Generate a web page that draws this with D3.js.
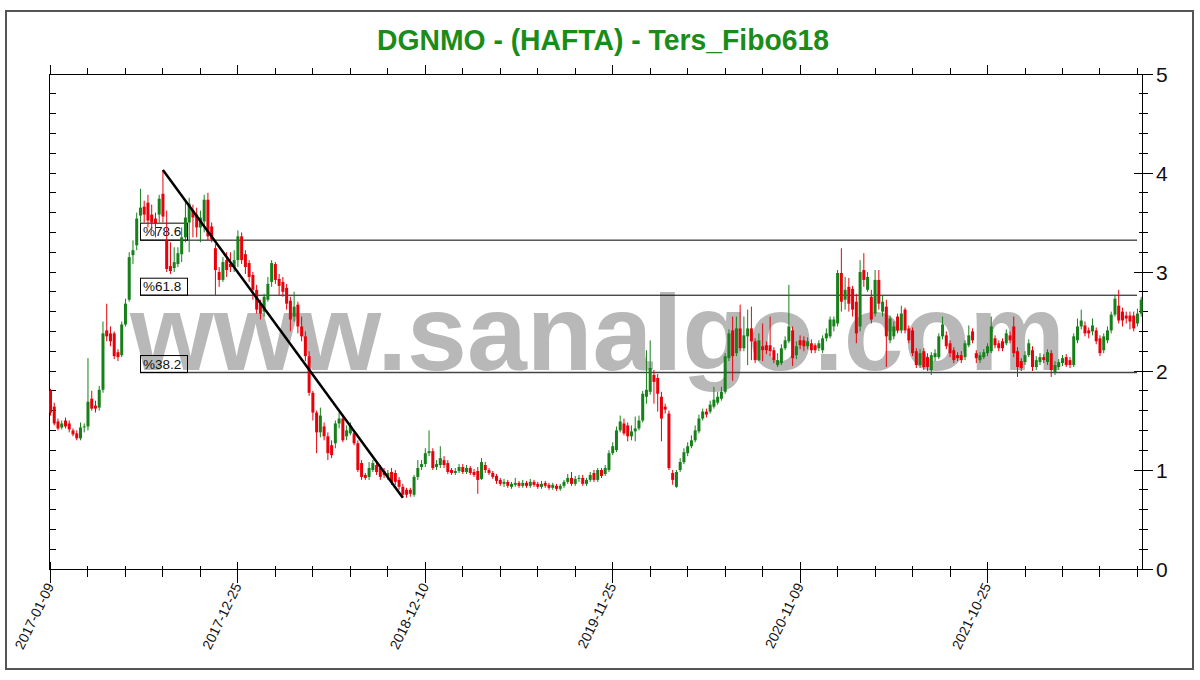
<!DOCTYPE html>
<html><head><meta charset="utf-8">
<script src="https://cdn.jsdelivr.net/npm/d3@7"></script>
<style>body{margin:0;background:#fff}svg{display:block;font-family:"Liberation Sans",Arial,sans-serif}</style>
</head><body><svg id="c" width="1200" height="680"></svg>
<script>
const titleText = "DGNMO - (HAFTA) - Ters_Fibo618";
const watermark = "www.sanalgo.com";
const startDate = "2017-01-09";
const dateTickLabels = ["2017-01-09","2017-12-25","2018-12-10","2019-11-25","2020-11-09","2021-10-25"];
const yTickLabels = [0,1,2,3,4,5];

const open = [
1.80,1.64,1.49,1.43,1.50,1.47,1.40,1.37,1.32,1.43,
1.44,1.72,1.65,1.63,1.81,2.41,2.38,2.38,2.19,2.16,
2.47,2.72,3.17,3.27,3.57,3.66,3.70,3.58,3.54,3.58,
3.79,3.32,3.06,3.04,3.08,3.18,3.35,3.50,3.62,3.58,
3.45,3.51,3.73,3.46,3.24,3.00,2.92,3.12,3.08,3.05,
3.12,3.36,3.18,3.09,2.97,2.82,2.68,2.60,2.72,2.90,
3.08,2.93,2.90,2.84,2.71,2.55,2.67,2.45,2.35,2.15,
1.78,1.58,1.38,1.44,1.34,1.25,1.27,1.47,1.52,1.34,
1.37,1.37,1.27,1.07,0.95,0.93,1.00,1.05,1.02,0.99,
0.93,0.98,0.97,0.90,0.83,0.80,0.80,0.75,0.93,1.03,
1.06,1.17,1.19,1.03,1.05,1.10,1.07,1.00,0.97,0.99,
1.03,0.98,1.02,0.98,0.99,0.91,1.05,1.00,0.97,0.94,
0.90,0.86,0.88,0.83,0.85,0.87,0.84,0.87,0.84,0.88,
0.86,0.83,0.87,0.85,0.82,0.84,0.81,0.84,0.88,0.92,
0.86,0.91,0.92,0.86,0.90,0.97,0.90,1.00,0.96,1.00,
1.17,1.20,1.40,1.47,1.45,1.34,1.39,1.42,1.50,1.74,
1.79,1.96,1.93,1.74,1.64,1.57,0.97,0.83,1.00,1.08,
1.17,1.24,1.30,1.39,1.52,1.59,1.59,1.64,1.68,1.72,
1.79,2.13,2.41,2.18,2.43,2.23,2.35,2.43,2.30,2.11,
2.25,2.26,2.26,2.21,2.06,2.08,2.23,2.30,2.41,2.16,
2.31,2.31,2.25,2.28,2.26,2.23,2.21,2.33,2.35,2.45,
2.48,2.99,2.72,2.85,2.83,2.70,2.45,3.02,2.82,2.75,
2.58,2.92,2.60,2.65,2.31,2.35,2.55,2.41,2.62,2.43,
2.41,2.20,2.06,2.20,2.14,2.01,2.14,2.14,2.35,2.36,
2.28,2.21,2.16,2.16,2.14,2.26,2.40,2.18,2.11,2.14,
2.18,2.20,2.33,2.28,2.30,2.28,2.36,2.45,2.20,2.10,
2.09,2.16,2.21,2.04,2.09,2.14,2.09,2.18,1.99,2.04,
2.08,2.14,2.11,2.06,2.31,2.45,2.46,2.41,2.40,2.41,
2.33,2.21,2.31,2.41,2.57,2.66,2.60,2.56,2.56,2.56,
2.48,2.58];
const high = [
1.82,1.68,1.52,1.50,1.53,1.50,1.42,1.40,1.48,1.47,
2.13,1.80,1.70,1.85,2.50,2.68,2.45,2.40,2.22,2.50,
2.73,3.20,3.32,3.60,3.84,3.72,3.78,3.68,3.60,3.78,
4.03,3.62,3.30,3.25,3.25,3.45,3.72,3.75,3.68,3.65,
3.62,3.78,3.80,3.50,3.28,3.05,3.15,3.20,3.20,3.22,
3.42,3.40,3.22,3.12,3.00,2.87,2.72,2.78,2.95,3.12,
3.10,2.98,2.95,2.88,2.75,2.80,2.70,2.55,2.40,2.20,
1.80,1.60,1.63,1.48,1.38,1.30,1.50,1.58,1.56,1.45,
1.48,1.40,1.30,1.10,0.97,1.08,1.10,1.08,1.05,1.02,
1.00,1.02,1.00,0.93,0.86,0.82,0.82,0.95,1.10,1.10,
1.22,1.40,1.22,1.10,1.24,1.14,1.10,1.02,1.02,1.06,
1.06,1.05,1.04,1.01,1.03,1.12,1.08,1.02,0.99,0.96,
0.92,0.91,0.90,0.88,0.92,0.89,0.90,0.89,0.91,0.90,
0.88,0.89,0.89,0.87,0.87,0.86,0.86,0.90,0.96,0.98,
0.94,0.95,0.95,0.92,0.98,1.00,1.02,1.02,1.05,1.20,
1.28,1.44,1.55,1.52,1.48,1.45,1.54,1.55,1.80,2.21,
2.31,2.01,1.97,1.79,1.67,1.60,1.00,1.00,1.12,1.22,
1.28,1.35,1.45,1.56,1.62,1.62,1.70,1.84,1.79,1.84,
2.18,2.42,2.55,2.55,2.67,2.55,2.62,2.65,2.33,2.38,
2.48,2.30,2.55,2.24,2.18,2.27,2.35,2.87,2.45,2.30,
2.36,2.35,2.34,2.32,2.28,2.31,2.36,2.43,2.55,2.55,
3.02,3.24,2.95,2.94,2.86,2.78,3.12,3.19,3.00,2.82,
3.02,3.02,2.76,2.72,2.56,2.50,2.58,2.66,2.64,2.46,
2.44,2.23,2.22,2.23,2.18,2.19,2.22,2.38,2.55,2.40,
2.31,2.24,2.19,2.20,2.31,2.46,2.43,2.21,2.19,2.22,
2.28,2.55,2.36,2.31,2.33,2.42,2.40,2.55,2.24,2.13,
2.20,2.32,2.25,2.15,2.18,2.17,2.22,2.21,2.10,2.12,
2.16,2.17,2.14,2.38,2.53,2.62,2.50,2.44,2.53,2.44,
2.36,2.38,2.45,2.60,2.77,2.82,2.64,2.60,2.60,2.60,
2.63,2.75];
const low = [
1.55,1.45,1.40,1.41,1.42,1.38,1.34,1.30,1.30,1.38,
1.40,1.60,1.58,1.60,1.78,2.30,2.25,2.12,2.10,2.14,
2.45,2.70,3.08,3.22,3.50,3.50,3.45,3.42,3.35,3.50,
3.50,3.00,2.98,3.00,3.05,3.10,3.30,3.20,3.35,3.35,
3.30,3.40,3.32,3.30,2.76,2.85,2.90,2.95,3.00,3.00,
3.05,3.08,2.98,2.90,2.72,2.58,2.52,2.55,2.70,2.85,
2.88,2.76,2.75,2.62,2.40,2.50,2.38,2.30,2.10,1.75,
1.50,1.17,1.33,1.30,1.10,1.12,1.22,1.42,1.28,1.30,
1.35,1.25,0.98,0.90,0.90,0.90,0.98,0.95,0.90,0.92,
0.90,0.85,0.85,0.80,0.72,0.72,0.73,0.73,0.90,1.00,
1.03,1.14,1.00,1.00,1.02,1.02,0.96,0.95,0.95,0.97,
0.96,0.96,0.95,0.93,0.76,0.90,0.97,0.95,0.91,0.86,
0.84,0.83,0.82,0.81,0.83,0.82,0.82,0.82,0.82,0.83,
0.81,0.81,0.82,0.80,0.80,0.79,0.79,0.82,0.86,0.84,
0.84,0.88,0.84,0.84,0.88,0.88,0.88,0.92,0.94,0.98,
1.15,1.18,1.38,1.35,1.29,1.30,1.29,1.40,1.48,1.67,
1.76,1.67,1.59,1.29,1.57,1.00,0.85,0.82,0.98,1.06,
1.14,1.22,1.28,1.37,1.50,1.53,1.57,1.62,1.66,1.70,
1.77,2.10,1.90,2.15,2.20,2.20,2.06,2.11,2.08,2.10,
2.10,2.17,2.15,2.08,2.04,2.06,2.21,2.28,2.05,2.12,
2.22,2.20,2.22,2.18,2.18,2.20,2.18,2.30,2.33,2.40,
2.45,2.60,2.62,2.60,2.55,2.28,2.40,2.85,2.80,2.48,
2.55,2.62,2.55,2.04,2.28,2.32,2.38,2.38,2.38,2.28,
2.15,2.03,2.03,2.01,2.00,1.96,2.10,2.12,2.32,2.22,
2.14,2.08,2.10,2.08,2.11,2.24,2.28,2.08,2.08,2.12,
2.15,2.18,2.23,2.20,2.20,2.26,2.28,2.14,1.94,2.00,
2.06,2.14,2.00,2.01,2.06,2.08,2.06,1.94,1.96,2.01,
2.05,2.04,2.03,2.04,2.28,2.42,2.35,2.33,2.36,2.27,
2.15,2.18,2.28,2.38,2.55,2.48,2.45,2.48,2.42,2.40,
2.45,2.55];
const close = [
1.58,1.47,1.42,1.47,1.44,1.41,1.36,1.32,1.43,1.44,
1.69,1.62,1.62,1.81,2.38,2.35,2.30,2.15,2.14,2.47,
2.68,3.15,3.22,3.54,3.65,3.58,3.52,3.50,3.49,3.74,
3.56,3.03,3.01,3.10,3.19,3.35,3.55,3.69,3.55,3.45,
3.55,3.73,3.36,3.33,3.02,2.92,3.10,3.02,3.05,3.12,
3.36,3.12,3.05,2.95,2.82,2.62,2.58,2.75,2.88,3.09,
2.92,2.86,2.80,2.68,2.52,2.65,2.45,2.35,2.15,1.78,
1.58,1.38,1.55,1.34,1.17,1.15,1.47,1.52,1.30,1.40,
1.45,1.27,1.00,0.93,0.92,1.02,1.07,0.98,0.93,0.95,
0.97,0.88,0.88,0.83,0.75,0.75,0.76,0.93,1.02,1.06,
1.17,1.19,1.02,1.06,1.12,1.05,0.98,0.97,0.99,1.03,
0.98,1.02,0.97,0.95,0.90,1.08,1.00,0.97,0.93,0.89,
0.86,0.88,0.84,0.86,0.87,0.84,0.87,0.84,0.88,0.85,
0.83,0.86,0.84,0.82,0.85,0.81,0.84,0.88,0.92,0.86,
0.91,0.92,0.86,0.90,0.95,0.90,1.00,0.94,1.02,1.17,
1.24,1.40,1.49,1.37,1.34,1.39,1.42,1.50,1.77,1.81,
2.03,1.89,1.77,1.52,1.61,1.02,0.90,0.98,1.08,1.18,
1.24,1.30,1.40,1.52,1.59,1.56,1.66,1.71,1.74,1.79,
2.15,2.38,2.15,2.43,2.23,2.36,2.43,2.30,2.11,2.31,
2.21,2.21,2.20,2.11,2.11,2.23,2.31,2.45,2.13,2.25,
2.26,2.25,2.30,2.21,2.21,2.28,2.33,2.38,2.52,2.52,
2.99,2.70,2.82,2.68,2.62,2.38,3.00,2.92,2.95,2.52,
2.92,2.68,2.70,2.35,2.53,2.45,2.41,2.58,2.41,2.31,
2.18,2.06,2.18,2.04,2.04,2.16,2.18,2.35,2.47,2.25,
2.18,2.11,2.13,2.11,2.28,2.36,2.31,2.13,2.16,2.19,
2.25,2.45,2.26,2.23,2.23,2.38,2.31,2.18,2.04,2.03,
2.16,2.28,2.04,2.11,2.14,2.11,2.19,2.01,2.06,2.09,
2.13,2.06,2.06,2.35,2.45,2.51,2.38,2.38,2.46,2.30,
2.18,2.35,2.41,2.57,2.73,2.51,2.51,2.53,2.50,2.43,
2.58,2.72];

const fibRatios = [0.382, 0.618, 0.786];
const fibLabels = ["%38.2", "%61.8", "%78.6"];
const trendWeeks = [30, 94];
const trendPrices = [4.03, 0.72];

const svg = d3.select("#c");
const n = close.length;
const x = d3.scaleLinear().domain([0, 291]).range([50.5, 1141.2]);
const y = d3.scaleLinear().domain([0, 5]).range([569, 74]);
const L = 49, R = 1142.5, T = y(5), B = y(0);
const parse = d3.utcParse("%Y-%m-%d");
const t0 = parse(startDate);
const weekOf = s => Math.round((parse(s) - t0) / (7 * 864e5));

// outer frame
svg.append("rect").attr("x", 6).attr("y", 11).attr("width", 1187).attr("height", 658)
  .attr("fill", "none").attr("stroke", "#555").attr("stroke-width", 2);

// title
svg.append("text").attr("x", 603).attr("y", 50).attr("text-anchor", "middle")
  .attr("font-size", 29).attr("font-weight", "bold").attr("fill", "#1a8c1a")
  .attr("textLength", 452).attr("lengthAdjust", "spacingAndGlyphs").text(titleText);

// watermark
svg.append("text").attr("x", 130).attr("y", 370).attr("font-size", 107).attr("font-weight", "bold")
  .attr("textLength", 935).attr("lengthAdjust", "spacingAndGlyphs")
  .attr("fill", "#b8b8b8").text(watermark);

// frame lines
const g = svg.append("g").attr("stroke", "#000").attr("stroke-width", 1).attr("shape-rendering", "crispEdges");
g.append("line").attr("x1", L).attr("x2", R).attr("y1", T).attr("y2", T);
g.append("line").attr("x1", L).attr("x2", R).attr("y1", B).attr("y2", B);
g.append("line").attr("x1", L).attr("x2", L).attr("y1", T).attr("y2", B);
g.append("line").attr("x1", R).attr("x2", R).attr("y1", T).attr("y2", B);

// y ticks
const yt = d3.range(0, 26).map(k => k / 5);
yt.forEach(v => {
  const major = Math.abs(v - Math.round(v)) < 1e-6;
  g.append("line").attr("x1", L).attr("x2", L + 7).attr("y1", y(v)).attr("y2", y(v));
  g.append("line").attr("x1", major ? R - 9 : R - 4).attr("x2", major ? R + 10 : R + 5).attr("y1", y(v)).attr("y2", y(v));
});
svg.selectAll(".yl").data(yTickLabels).enter().append("text")
  .attr("x", 1156).attr("y", d => y(d)).attr("dy", "0.36em").attr("font-size", 21).attr("fill", "#111").text(d => d);

// x ticks
const labelWeeks = dateTickLabels.map(weekOf);
d3.range(0, 292, 10).forEach(w => {
  const major = labelWeeks.includes(w);
  g.append("line").attr("x1", x(w)).attr("x2", x(w)).attr("y1", major ? B - 7 : B - 3).attr("y2", major ? B + 14 : B + 8);
  g.append("line").attr("x1", x(w)).attr("x2", x(w)).attr("y1", major ? T - 9 : T - 6).attr("y2", T);
});
svg.selectAll(".xl").data(dateTickLabels).enter().append("text")
  .attr("text-anchor", "end").attr("font-size", 14).attr("fill", "#111")
  .attr("transform", d => `translate(${x(weekOf(d)) + 4},${B + 17}) rotate(-64)`).text(d => d);

// fib levels
const hi = trendPrices[0], lo = trendPrices[1];
const fibG = svg.append("g");
fibRatios.forEach((r, k) => {
  const lv = lo + r * (hi - lo);
  fibG.append("line").attr("x1", 140).attr("x2", 1137).attr("y1", y(lv)).attr("y2", y(lv))
    .attr("stroke", k === 0 ? "#444" : "#000").attr("stroke-width", k === 0 ? 1.6 : 1);
  fibG.append("rect").attr("x", 140.5).attr("y", y(lv) - 17).attr("width", 47).attr("height", 17)
    .attr("fill", "none").attr("stroke", "#000").attr("stroke-width", 1);
  fibG.append("text").attr("x", 143).attr("y", y(lv) - 4).attr("font-size", 13.5).attr("fill", "#111").text(fibLabels[k]);
});

// candles
const data = d3.range(n).map(i => ({i, o: open[i], h: high[i], l: low[i], c: close[i]}));
const col = d => d.c >= d.o ? "#17801a" : "#e8000b";
const cg = svg.append("g");
cg.selectAll(".w").data(data).enter().append("line")
  .attr("x1", d => x(d.i)).attr("x2", d => x(d.i)).attr("y1", d => y(d.h)).attr("y2", d => y(d.l))
  .attr("stroke", col).attr("stroke-width", 1);
cg.selectAll(".b").data(data).enter().append("rect")
  .attr("x", d => x(d.i) - 1.5).attr("width", 3)
  .attr("y", d => y(Math.max(d.o, d.c))).attr("height", d => Math.max(1, Math.abs(y(d.o) - y(d.c))))
  .attr("fill", col);

// trend line
svg.append("line").attr("x1", x(trendWeeks[0])).attr("y1", y(trendPrices[0]))
  .attr("x2", x(trendWeeks[1])).attr("y2", y(trendPrices[1]))
  .attr("stroke", "#000").attr("stroke-width", 2.5);
</script></body></html>
